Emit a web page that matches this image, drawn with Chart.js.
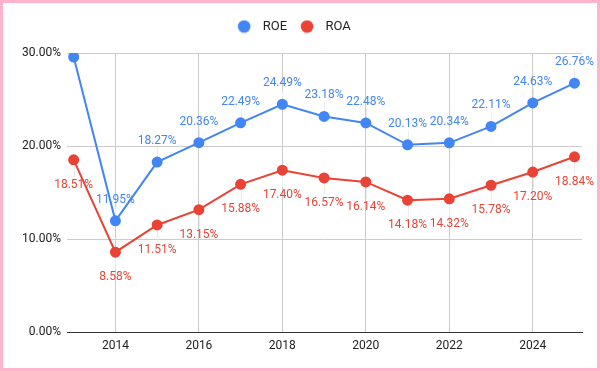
<!DOCTYPE html>
<html>
<head>
<meta charset="utf-8">
<script src="https://cdn.jsdelivr.net/npm/chart.js@4"></script>
<style>
  html, body { margin: 0; padding: 0; background: #fff; }
  #wrap {
    width: 600px; height: 371px; box-sizing: border-box;
    border: 3px solid #ffb3cc; background: #fff;
  }
  #wrap canvas { display: block; }
</style>
</head>
<body>
<div id="wrap"><canvas id="chart" width="594" height="365"></canvas></div>
<script>
const years = [2013, 2014, 2015, 2016, 2017, 2018, 2019, 2020, 2021, 2022, 2023, 2024, 2025];
const roeValues = [29.57, 11.95, 18.27, 20.36, 22.49, 24.49, 23.18, 22.48, 20.13, 20.34, 22.11, 24.63, 26.76];
const roaValues = [18.51, 8.58, 11.51, 13.15, 15.88, 17.40, 16.57, 16.14, 14.18, 14.32, 15.78, 17.20, 18.84];
const yearTicks = [2014, 2016, 2018, 2020, 2022, 2024];
const percentTicks = [0, 10, 20, 30];

const blue = '#4285f4';
const red = '#ea4335';

// legend dot: a round marker with some room round it, so the text sits further off
function legendDot(color) {
    const c = document.createElement('canvas');
    c.width = 22;
    c.height = 14;
    const g = c.getContext('2d');
    g.fillStyle = color;
    g.beginPath();
    g.arc(10, 7, 6.3, 0, Math.PI * 2);
    g.fill();
    return c;
}

// a bit of extra room under the legend
const legendGap = {
    id: 'legendGap',
    beforeInit(chart) {
        const fit = chart.legend.fit;
        chart.legend.fit = function () {
            fit.call(this);
            this.height += 10;
        };
    }
};

// value labels above (ROE) / below (ROA) each point, with a faint leader line
const pointLabels = {
    id: 'pointLabels',
    beforeDatasetsDraw(chart) {
        const ctx = chart.ctx;
        ctx.save();
        ctx.strokeStyle = '#ececec';
        ctx.lineWidth = 1;
        chart.data.datasets.forEach((ds, i) => {
            chart.getDatasetMeta(i).data.forEach((pt, j) => {
                if (ds.skipLabels.includes(j)) return;
                const above = ds.labelPos === 'above';
                const y1 = above ? pt.y - 5 : pt.y + 5;
                const y2 = above ? pt.y - 14 : pt.y + 17;
                ctx.beginPath();
                ctx.moveTo(Math.round(pt.x) + 0.5, y1);
                ctx.lineTo(Math.round(pt.x) + 0.5, y2);
                ctx.stroke();
            });
        });
        ctx.restore();
    },
    afterDatasetsDraw(chart) {
        const ctx = chart.ctx;
        ctx.save();
        ctx.font = '12px Roboto';
        ctx.textAlign = 'center';
        ctx.textBaseline = 'middle';
        chart.data.datasets.forEach((ds, i) => {
            ctx.fillStyle = ds.borderColor;
            chart.getDatasetMeta(i).data.forEach((pt, j) => {
                if (ds.skipLabels.includes(j)) return;
                const y = ds.labelPos === 'above' ? pt.y - 21 : pt.y + 25;
                ctx.fillText(ds.data[j].y.toFixed(2) + '%', pt.x, y);
            });
        });
        ctx.restore();
    }
};

const ctx = document.getElementById('chart').getContext('2d');
new Chart(ctx, {
    type: 'line',
    data: {
        datasets: [{
            label: 'ROE',
            data: years.map((yr, k) => ({ x: yr, y: roeValues[k] })),
            borderColor: blue,
            backgroundColor: blue,
            borderWidth: 2,
            pointRadius: 4.5,
            pointHoverRadius: 4.5,
            labelPos: 'above',
            skipLabels: [0]
        }, {
            label: 'ROA',
            data: years.map((yr, k) => ({ x: yr, y: roaValues[k] })),
            borderColor: red,
            backgroundColor: red,
            borderWidth: 2,
            pointRadius: 4.5,
            pointHoverRadius: 4.5,
            labelPos: 'below',
            skipLabels: []
        }]
    },
    options: {
        responsive: false,
        animation: false,
        layout: { padding: { top: 7, right: 15, left: 0, bottom: 0 } },
        plugins: {
            tooltip: { enabled: false },
            legend: {
                position: 'top',
                align: 'center',
                labels: {
                    usePointStyle: true,
                    pointStyleWidth: 22,
                    boxHeight: 13,
                    color: '#222',
                    font: { family: 'Roboto', size: 13 },
                    padding: 10,
                    generateLabels: (chart) =>
                        Chart.defaults.plugins.legend.labels.generateLabels(chart).map(item => ({
                            ...item,
                            pointStyle: legendDot(chart.data.datasets[item.datasetIndex].borderColor)
                        }))
                }
            }
        },
        scales: {
            x: {
                type: 'linear',
                min: 2012.84,
                max: 2025.18,
                afterBuildTicks: (scale) => {
                    scale.ticks = yearTicks.map(v => ({ value: v }));
                },
                afterFit: (scale) => { scale.height = 36; },
                grid: { color: '#cccccc', drawTicks: false },
                border: { display: true, color: '#333333', width: 1 },
                ticks: {
                    color: '#222',
                    font: { family: 'Roboto', size: 12 },
                    padding: 7,
                    maxRotation: 0,
                    callback: (v) => String(v)
                }
            },
            y: {
                min: 0,
                max: 30,
                afterBuildTicks: (scale) => {
                    scale.ticks = percentTicks.map(v => ({ value: v }));
                },
                afterFit: (scale) => { scale.width = 64; },
                grid: { color: '#cccccc', drawTicks: false },
                border: { display: false },
                ticks: {
                    color: '#222',
                    font: { family: 'Roboto', size: 12 },
                    padding: 6,
                    callback: (v) => v.toFixed(2) + '%'
                }
            }
        }
    },
    plugins: [legendGap, pointLabels]
});
</script>
</body>
</html>
